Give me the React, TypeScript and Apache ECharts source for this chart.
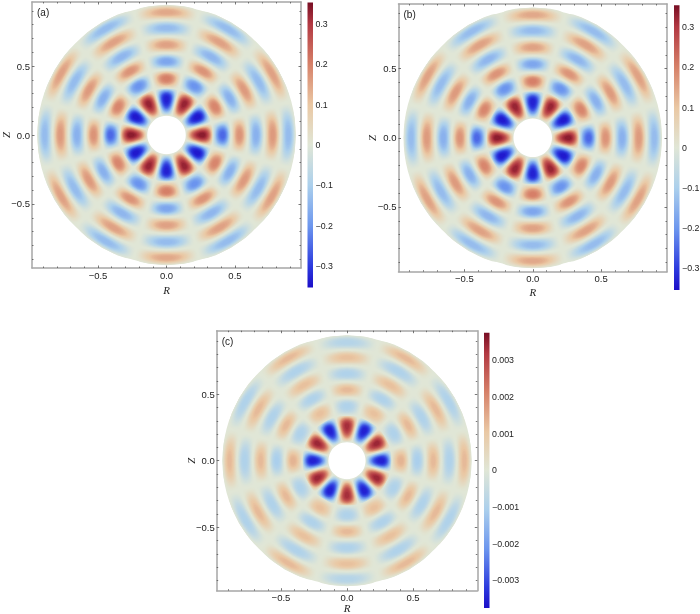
import React, { useEffect, useRef } from "react";
import * as echarts from "echarts";

// lobe amplitudes, per ring (inner to outer), per 30-degree sector starting at angle 0, counter-clockwise
const aRing1 = [0.345, -0.35, 0.335, -0.34, 0.335, -0.35, 0.345, -0.35, 0.335, -0.34, 0.335, -0.35];
const aRing2 = [-0.26, 0.2, -0.21, 0.21, -0.21, 0.2, -0.26, 0.2, -0.21, 0.21, -0.21, 0.2];
const aRing3 = [0.18, -0.16, 0.18, -0.18, 0.18, -0.16, 0.18, -0.16, 0.18, -0.18, 0.18, -0.16];
const aRing4 = [-0.16, 0.17, -0.15, 0.16, -0.15, 0.17, -0.16, 0.17, -0.15, 0.16, -0.15, 0.17];
const aRing5 = [0.17, -0.14, 0.16, -0.14, 0.16, -0.14, 0.17, -0.14, 0.16, -0.14, 0.16, -0.14];
const aRing6 = [-0.14, 0.16, -0.14, 0.15, -0.14, 0.16, -0.14, 0.16, -0.14, 0.15, -0.14, 0.16];

const bRing1 = [0.345, -0.35, 0.335, -0.34, 0.335, -0.35, 0.345, -0.35, 0.335, -0.34, 0.335, -0.35];
const bRing2 = [-0.26, 0.2, -0.21, 0.21, -0.21, 0.2, -0.26, 0.2, -0.21, 0.21, -0.21, 0.2];
const bRing3 = [0.18, -0.16, 0.18, -0.18, 0.18, -0.16, 0.18, -0.16, 0.18, -0.18, 0.18, -0.16];
const bRing4 = [-0.16, 0.17, -0.15, 0.16, -0.15, 0.17, -0.16, 0.17, -0.15, 0.16, -0.15, 0.17];
const bRing5 = [0.17, -0.14, 0.16, -0.14, 0.16, -0.14, 0.17, -0.14, 0.16, -0.14, 0.16, -0.14];
const bRing6 = [-0.14, 0.16, -0.14, 0.15, -0.14, 0.16, -0.14, 0.16, -0.14, 0.15, -0.14, 0.16];

const cRing1 = [-0.0036, 0.0035, -0.0036, 0.0034, -0.0036, 0.0035, -0.0036, 0.0035, -0.0036, 0.0034, -0.0036, 0.0035];
const cRing2 = [0.0014, -0.001, 0.0012, -0.001, 0.0012, -0.001, 0.0014, -0.001, 0.0012, -0.001, 0.0012, -0.001];
const cRing3 = [-0.0011, 0.0013, -0.001, 0.0013, -0.001, 0.0013, -0.0011, 0.0013, -0.001, 0.0013, -0.001, 0.0013];
const cRing4 = [0.0013, -0.001, 0.0012, -0.001, 0.0012, -0.001, 0.0013, -0.001, 0.0012, -0.001, 0.0012, -0.001];
const cRing5 = [-0.001, 0.0013, -0.001, 0.0012, -0.001, 0.0013, -0.001, 0.0013, -0.001, 0.0012, -0.001, 0.0013];
const cRing6 = [0.0013, -0.001, 0.0013, -0.0009, 0.0013, -0.001, 0.0013, -0.001, 0.0013, -0.0009, 0.0013, -0.001];

// radial peak position and bounds of each ring
const ringCentre = [0.262, 0.41, 0.533, 0.654, 0.776, 0.89];
const ringInner = [0.14, 0.335, 0.472, 0.594, 0.715, 0.833];
const ringOuter = [0.345, 0.472, 0.594, 0.715, 0.833, 0.945];
const ringFullness = [0.72, 0.92, 1, 1, 1, 1];

const sectorHalfDeg = 15;
const diskRadius = 0.94;
const holeRadius = 0.14;

const axisMajor = [-0.5, 0, 0.5];
const axisMinor = [-0.9, -0.8, -0.7, -0.6, -0.4, -0.3, -0.2, -0.1, 0.1, 0.2, 0.3, 0.4, 0.6, 0.7, 0.8, 0.9];
const barTicksAB = [-0.3, -0.2, -0.1, 0, 0.1, 0.2, 0.3];
const barTicksC = [-0.003, -0.002, -0.001, 0, 0.001, 0.002, 0.003];

// colour scale: position in [-1, 1] of the bar, colour
const scaleStops: [number, number[]][] = [
  [-1, [28, 14, 200]],
  [-0.85, [44, 58, 222]],
  [-0.57, [108, 150, 238]],
  [-0.28, [172, 208, 236]],
  [0, [224, 230, 214]],
  [0.28, [234, 200, 164]],
  [0.57, [214, 128, 104]],
  [0.85, [178, 56, 66]],
  [1, [120, 14, 36]],
];

function scaleColor(t: number) {
  const x = Math.max(-1, Math.min(1, t));
  for (let i = 1; i < scaleStops.length; i++) {
    if (x <= scaleStops[i][0]) {
      const [p0, c0] = scaleStops[i - 1];
      const [p1, c1] = scaleStops[i];
      const f = (x - p0) / (p1 - p0);
      return `rgb(${c0.map((v, k) => Math.round(v + (c1[k] - v) * f)).join(",")})`;
    }
  }
  return "rgb(120,14,36)";
}

const levels = [0.05, 0.1, 0.16, 0.22, 0.28, 0.34, 0.4, 0.46, 0.52, 0.58, 0.64, 0.7, 0.76, 0.82, 0.88, 0.94];

function lobeItem(vmax: number) {
  return (_: any, api: any) => {
    const value = api.value(2);
    const ring = api.value(3);
    const sector = api.value(4);
    const rc = ringCentre[ring];
    const rin = ringInner[ring];
    const rout = ringOuter[ring];
    const thc = (sector * 30 * Math.PI) / 180;
    const half = (sectorHalfDeg * Math.PI) / 180;
    const map = (u: number, w: number) => {
      const r = u < 0 ? rc + u * (rc - rin) : rc + u * (rout - rc);
      const th = thc + w * half;
      return api.coord([r * Math.cos(th), r * Math.sin(th)]);
    };
    const children = levels.map((c) => {
      const U = (2 / Math.PI) * Math.acos(c);
      const points: number[][] = [];
      for (let k = 0; k < 36; k++) {
        const t = (k / 36) * 2 * Math.PI;
        const u = U * Math.cos(t);
        const ratio = Math.min(1, c / Math.max(1e-6, Math.cos((Math.PI * u) / 2)));
        const w = (Math.sin(t) >= 0 ? 1 : -1) * (2 / Math.PI) * Math.acos(ratio);
        points.push(map(u, w));
      }
      const shade = Math.pow(0.5 * c + 0.5 * c * c * (3 - 2 * c), ringFullness[ring]);
      return {
        type: "polygon",
        shape: { points },
        style: { fill: scaleColor((value * shade) / vmax) },
      };
    });
    return { type: "group", children };
  };
}

function diskItem(_: any, api: any) {
  const c = api.coord([0, 0]);
  const w = api.size([1, 1]);
  const s = (w[0] + w[1]) / 2;
  return {
    type: "ring",
    shape: { cx: c[0], cy: c[1], r: diskRadius * s, r0: holeRadius * s },
    style: { fill: scaleColor(0) },
  };
}

function barItem(_: any, api: any) {
  const p0 = api.coord([0, api.value(1)]);
  const p1 = api.coord([1, api.value(2)]);
  return {
    type: "rect",
    shape: { x: p0[0], y: p1[1], width: p1[0] - p0[0], height: p0[1] - p1[1] },
    style: {
      fill: new echarts.graphic.LinearGradient(
        0, 0, 0, 1,
        scaleStops.map(([p, c]) => ({ offset: (1 - p) / 2, color: `rgb(${c.join(",")})` })).reverse()
      ),
    },
  };
}

const minus = (s: string) => s.replace("-", "\u2212");
const FONT = "Liberation Sans";
const FRAME = "#a6a6a6";
const TICK = "#555555";
const TEXT = "#222222";

type Panel = {
  tag: string; left: number; right: number; top: number; bottom: number;
  xExt: number; yExt: number; rings: number[][]; vmax: number;
  barLeft: number; barRight: number; barTop: number; barBottom: number;
  barTicks: number[]; digits: number; rGap: number; zGap: number;
};

const panels: Panel[] = [
  { tag: "(a)", left: 32, right: 301, top: 2, bottom: 268, xExt: 0.982, yExt: 0.964,
    rings: [aRing1, aRing2, aRing3, aRing4, aRing5, aRing6], vmax: 0.3536,
    barLeft: 307.5, barRight: 313, barTop: 2.5, barBottom: 287.5, barTicks: barTicksAB, digits: 1, rGap: 21.5, zGap: 26.5 },
  { tag: "(b)", left: 398.5, right: 667, top: 4, bottom: 271.7, xExt: 0.982, yExt: 0.968,
    rings: [bRing1, bRing2, bRing3, bRing4, bRing5, bRing6], vmax: 0.355,
    barLeft: 674, barRight: 679.5, barTop: 5.3, barBottom: 290, barTicks: barTicksAB, digits: 1, rGap: 20.5, zGap: 26.5 },
  { tag: "(c)", left: 216.7, right: 477.3, top: 330.7, bottom: 590.7, xExt: 0.987, yExt: 0.977,
    rings: [cRing1, cRing2, cRing3, cRing4, cRing5, cRing6], vmax: 0.00375,
    barLeft: 484, barRight: 489.5, barTop: 332.7, barBottom: 608, barTicks: barTicksC, digits: 3, rGap: 17, zGap: 26 },
];

function buildOption() {
  const grid: any[] = [];
  const xAxis: any[] = [];
  const yAxis: any[] = [];
  const series: any[] = [];
  const graphic: any[] = [];

  const frameAxis = (gridIndex: number, position: string, ext: number, values: number[], len: number, labels: boolean, lineOn: boolean) => ({
    type: "value", gridIndex, position, min: -ext, max: ext, scale: true,
    splitLine: { show: false },
    axisLine: { show: lineOn, onZero: false, lineStyle: { color: FRAME, width: 1.5 } },
    axisTick: { show: true, inside: true, length: len, customValues: values, lineStyle: { color: TICK, width: 0.8 } },
    axisLabel: labels
      ? { show: true, customValues: values, margin: 2, color: TEXT, fontFamily: FONT, fontSize: 9.5,
          formatter: (v: number) => minus(v.toFixed(1)) }
      : { show: false },
  });

  panels.forEach((p) => {
    const box = { left: p.left, top: p.top, width: p.right - p.left, height: p.bottom - p.top, outerBoundsMode: "none" };
    const mainGrid = grid.length;
    grid.push(box);
    const minorGrid = grid.length;
    grid.push(box);
    const barGrid = grid.length;
    grid.push({ left: p.barLeft, top: p.barTop, width: p.barRight - p.barLeft, height: p.barBottom - p.barTop, outerBoundsMode: "none" });

    const xMain = xAxis.length;
    const yMain = yAxis.length;
    xAxis.push(frameAxis(mainGrid, "bottom", p.xExt, axisMajor, 2.5, true, true));
    xAxis.push(frameAxis(mainGrid, "top", p.xExt, axisMajor, 2.5, false, true));
    yAxis.push(frameAxis(mainGrid, "left", p.yExt, axisMajor, 2.5, true, true));
    yAxis.push(frameAxis(mainGrid, "right", p.yExt, axisMajor, 2.5, false, true));
    xAxis.push(frameAxis(minorGrid, "bottom", p.xExt, axisMinor, 1.5, false, false));
    xAxis.push(frameAxis(minorGrid, "top", p.xExt, axisMinor, 1.5, false, false));
    yAxis.push(frameAxis(minorGrid, "left", p.yExt, axisMinor, 1.5, false, false));
    yAxis.push(frameAxis(minorGrid, "right", p.yExt, axisMinor, 1.5, false, false));

    const xBar = xAxis.length;
    const yBar = yAxis.length;
    xAxis.push({ type: "value", gridIndex: barGrid, min: 0, max: 1, show: false });
    yAxis.push({
      type: "value", gridIndex: barGrid, position: "right", min: -p.vmax, max: p.vmax, scale: true,
      splitLine: { show: false }, axisLine: { show: false }, axisTick: { show: false },
      axisLabel: {
        show: true, customValues: p.barTicks, margin: 2.5, color: TEXT, fontFamily: FONT, fontSize: 8.8,
        formatter: (v: number) => (Math.abs(v) < 1e-9 ? "0" : minus(v.toFixed(p.digits))),
      },
    });

    series.push({
      type: "custom", coordinateSystem: "cartesian2d", xAxisIndex: xMain, yAxisIndex: yMain,
      silent: true, clip: false, renderItem: diskItem, data: [[0, 0]], z: 1,
    });
    const lobes: number[][] = [];
    p.rings.forEach((vals, ring) => vals.forEach((v, sector) => {
      const th = (sector * 30 * Math.PI) / 180;
      lobes.push([ringCentre[ring] * Math.cos(th), ringCentre[ring] * Math.sin(th), v, ring, sector]);
    }));
    series.push({
      type: "custom", coordinateSystem: "cartesian2d", xAxisIndex: xMain, yAxisIndex: yMain,
      silent: true, clip: false, renderItem: lobeItem(p.vmax), encode: { x: 0, y: 1 }, data: lobes, z: 2,
    });
    series.push({
      type: "custom", coordinateSystem: "cartesian2d", xAxisIndex: xBar, yAxisIndex: yBar,
      silent: true, clip: false, renderItem: barItem, data: [[0, -p.vmax, p.vmax]], encode: { x: 0, y: 1 }, z: 2,
    });

    graphic.push({
      type: "text", x: p.left + 5, y: p.top + 5.5, z: 10,
      style: { text: p.tag, fill: TEXT, font: `10px '${FONT}'` },
    });
    graphic.push({
      type: "text", x: (p.left + p.right) / 2, y: p.bottom + p.rGap, z: 10,
      style: { text: "R", fill: TEXT, font: "italic 11px 'Liberation Serif'", textAlign: "center", textVerticalAlign: "middle" },
    });
    graphic.push({
      type: "text", x: p.left - p.zGap, y: (p.top + p.bottom) / 2, rotation: Math.PI / 2, z: 10,
      style: { text: "Z", fill: TEXT, font: "italic 11px 'Liberation Serif'", textAlign: "center", textVerticalAlign: "middle" },
    });
  });

  return { animation: false, backgroundColor: "#ffffff", grid, xAxis, yAxis, series, graphic };
}

export default function App() {
  const ref = useRef<HTMLDivElement>(null);
  useEffect(() => {
    document.body.style.margin = "0";
    const chart = echarts.init(ref.current!, undefined, { renderer: "svg" });
    chart.setOption(buildOption() as any);
    return () => chart.dispose();
  }, []);
  return <div ref={ref} style={{ width: 700, height: 614, filter: "blur(0.35px)" }} />;
}
